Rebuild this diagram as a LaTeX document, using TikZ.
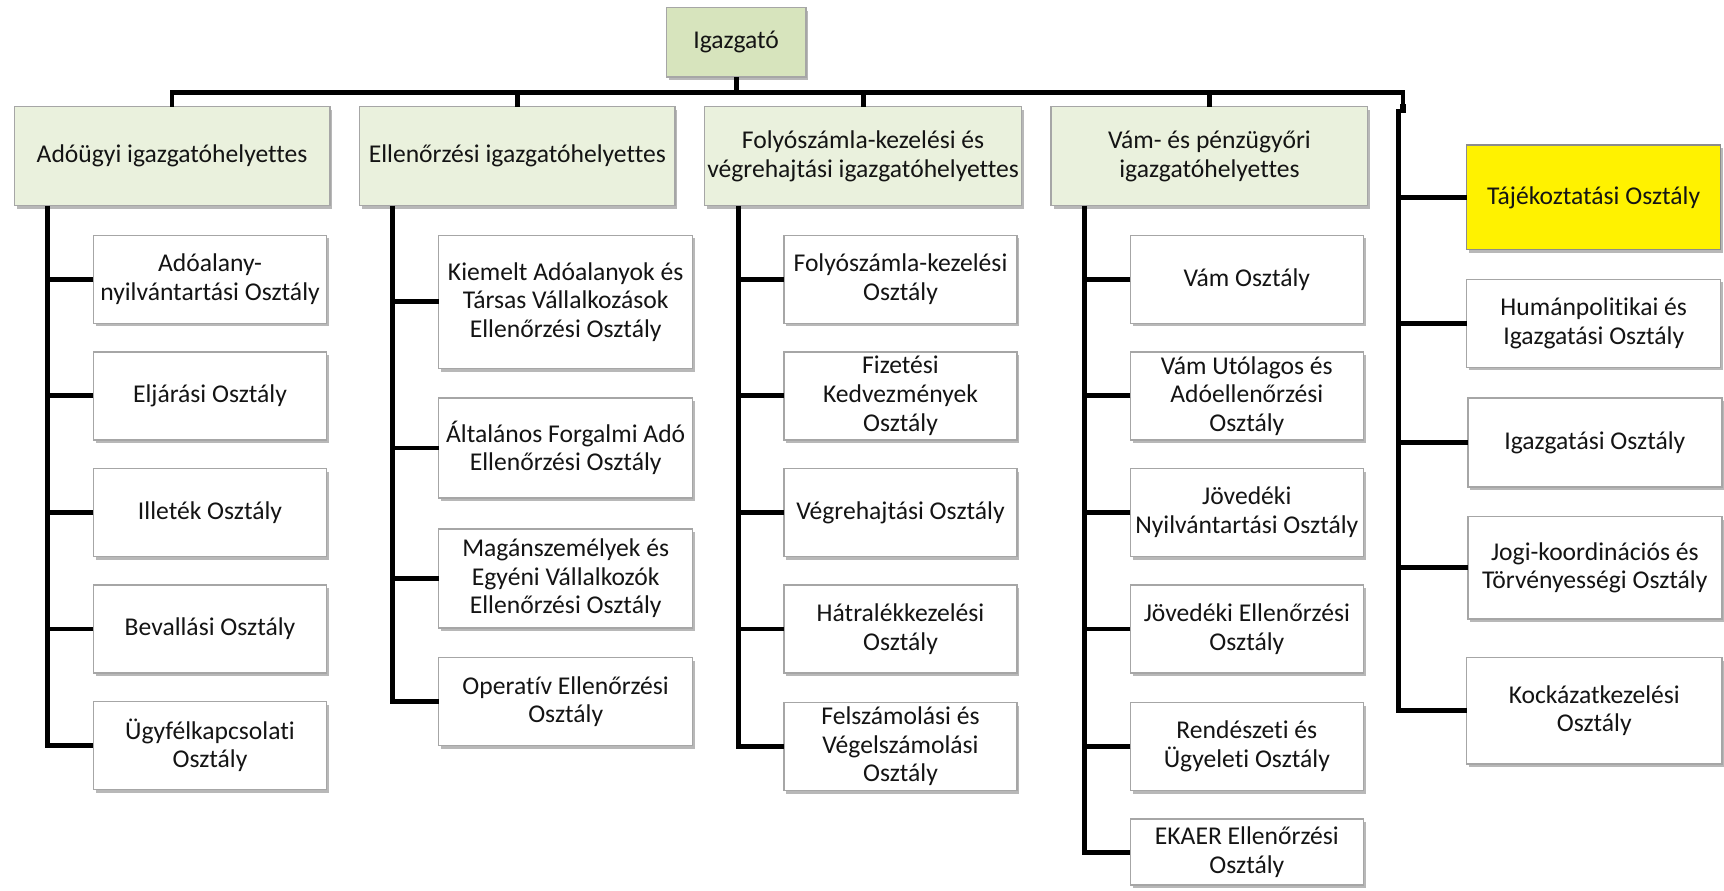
\documentclass[tikz,border=0pt]{standalone}
\usepackage{fontspec}
\setmainfont{Carlito}[Ligatures=NoCommon]
\usetikzlibrary{shadows}
\definecolor{topgreen}{HTML}{D7E4BD}
\definecolor{lvgreen}{HTML}{EAF1DD}
\definecolor{txt}{HTML}{141414}
\newcommand\uu{0.54975pt}
\tikzset{
  box/.style={draw=black!35, line width=0.7pt, fill=white, align=center, inner sep=1pt, outer sep=0pt,
    text=txt, font=\fontsize{12.8}{14.3}\selectfont,
    general shadow={shadow xshift=1.2pt, shadow yshift=-1.6pt, fill=black, opacity=0.28}},
  lvone/.style={fill=lvgreen},
  topbox/.style={fill=topgreen},
  yel/.style={fill=yellow, draw=black!45},
  conn/.style={line width=2.4pt, black},
}
\newcommand\ob[7][]{%
  \node[box,#1,minimum width={(#5-#3)*\uu}, minimum height={(#6-#4)*\uu}] (#2) at ({(#3+#5)/2},{(#4+#6)/2}) {#7};}
\begin{document}
\begin{tikzpicture}[x=0.54975pt, y=-0.54975pt]
\useasboundingbox (0,0) rectangle (1568,810);
% top
\ob[topbox]{igaz}{606}{7}{733}{70}{Igazgató}
\ob[lvone]{a0}{13}{97}{300}{187}{Adóügyi igazgatóhelyettes}
\ob[lvone]{e0}{327}{97}{614}{187}{Ellenőrzési igazgatóhelyettes}
\ob[lvone]{f0}{641}{97}{929}{187}{Folyószámla-kezelési és\\végrehajtási igazgatóhelyettes}
\ob[lvone]{v0}{956}{97}{1244}{187}{Vám- és pénzügyőri\\igazgatóhelyettes}
% column 1
\ob{a1}{85}{214}{297}{294}{Adóalany-\\nyilvántartási Osztály}
\ob{a2}{85}{320}{297}{400}{Eljárási Osztály}
\ob{a3}{85}{426}{297}{506}{Illeték Osztály}
\ob{a4}{85}{532}{297}{612}{Bevallási Osztály}
\ob{a5}{85}{638}{297}{718}{Ügyfélkapcsolati\\Osztály}
% column 2
\ob{e1}{399}{214}{630}{335}{Kiemelt Adóalanyok és\\Társas Vállalkozások\\Ellenőrzési Osztály}
\ob{e2}{399}{362}{630}{453}{Általános Forgalmi Adó\\Ellenőrzési Osztály}
\ob{e3}{399}{481}{630}{571}{Magánszemélyek és\\Egyéni Vállalkozók\\Ellenőrzési Osztály}
\ob{e4}{399}{598}{630}{678}{Operatív Ellenőrzési\\Osztály}
% column 3
\ob{f1}{713}{214}{925}{294}{Folyószámla-kezelési\\Osztály}
\ob{f2}{713}{320}{925}{400}{Fizetési\\Kedvezmények\\Osztály}
\ob{f3}{713}{426}{925}{506}{Végrehajtási Osztály}
\ob{f4}{713}{532}{925}{612}{Hátralékkezelési\\Osztály}
\ob{f5}{713}{639}{925}{719}{Felszámolási és\\Végelszámolási\\Osztály}
% column 4
\ob{v1}{1028}{214}{1240}{294}{Vám Osztály}
\ob{v2}{1028}{320}{1240}{400}{Vám Utólagos és\\Adóellenőrzési\\Osztály}
\ob{v3}{1028}{426}{1240}{506}{Jövedéki\\Nyilvántartási Osztály}
\ob{v4}{1028}{532}{1240}{612}{Jövedéki Ellenőrzési\\Osztály}
\ob{v5}{1028}{639}{1240}{719}{Rendészeti és\\Ügyeleti Osztály}
\ob{v6}{1028}{745}{1240}{805}{EKAER Ellenőrzési\\Osztály}
% right column
\ob[yel]{t1}{1334}{132}{1565}{227}{Tájékoztatási Osztály}
\ob{t2}{1334}{254}{1565}{334}{Humánpolitikai és\\Igazgatási Osztály}
\ob{t3}{1335}{362}{1566}{443}{Igazgatási Osztály}
\ob{t4}{1335}{470}{1566}{563}{Jogi-koordinációs és\\Törvényességi Osztály}
\ob{t5}{1334}{598}{1566}{695}{Kockázatkezelési\\Osztály}
% connectors
\coordinate (bus) at (0,84);
\coordinate (busend) at (1276,84);
\coordinate (busdrop) at (1276,100);
\coordinate (rc) at (1272,99);
\draw[conn] (igaz.south) -- (igaz.south |- bus);
\draw[conn] (a0.north) |- (busend) -- (busdrop);
\fill (1273,95) rectangle (1279,103);
\foreach \n in {e0,f0,v0} \draw[conn] (\n.north) -- (\n.north |- bus);
\coordinate (c1) at (43,0);
\coordinate (c2) at (357,0);
\coordinate (c3) at (672,0);
\coordinate (c4) at (986,0);
\draw[conn] (c1 |- a0.south) |- (a5.west);
\foreach \i in {1,...,4} \draw[conn] (a\i.west) -- (a\i.west -| c1);
\draw[conn] (c2 |- e0.south) |- (e4.west);
\foreach \i in {1,...,3} \draw[conn] (e\i.west) -- (e\i.west -| c2);
\draw[conn] (c3 |- f0.south) |- (f5.west);
\foreach \i in {1,...,4} \draw[conn] (f\i.west) -- (f\i.west -| c3);
\draw[conn] (c4 |- v0.south) |- (v6.west);
\foreach \i in {1,...,5} \draw[conn] (v\i.west) -- (v\i.west -| c4);
\draw[conn] (rc) |- (t5.west);
\foreach \i in {1,...,4} \draw[conn] (t\i.west) -- (t\i.west -| rc);
\end{tikzpicture}
\end{document}
